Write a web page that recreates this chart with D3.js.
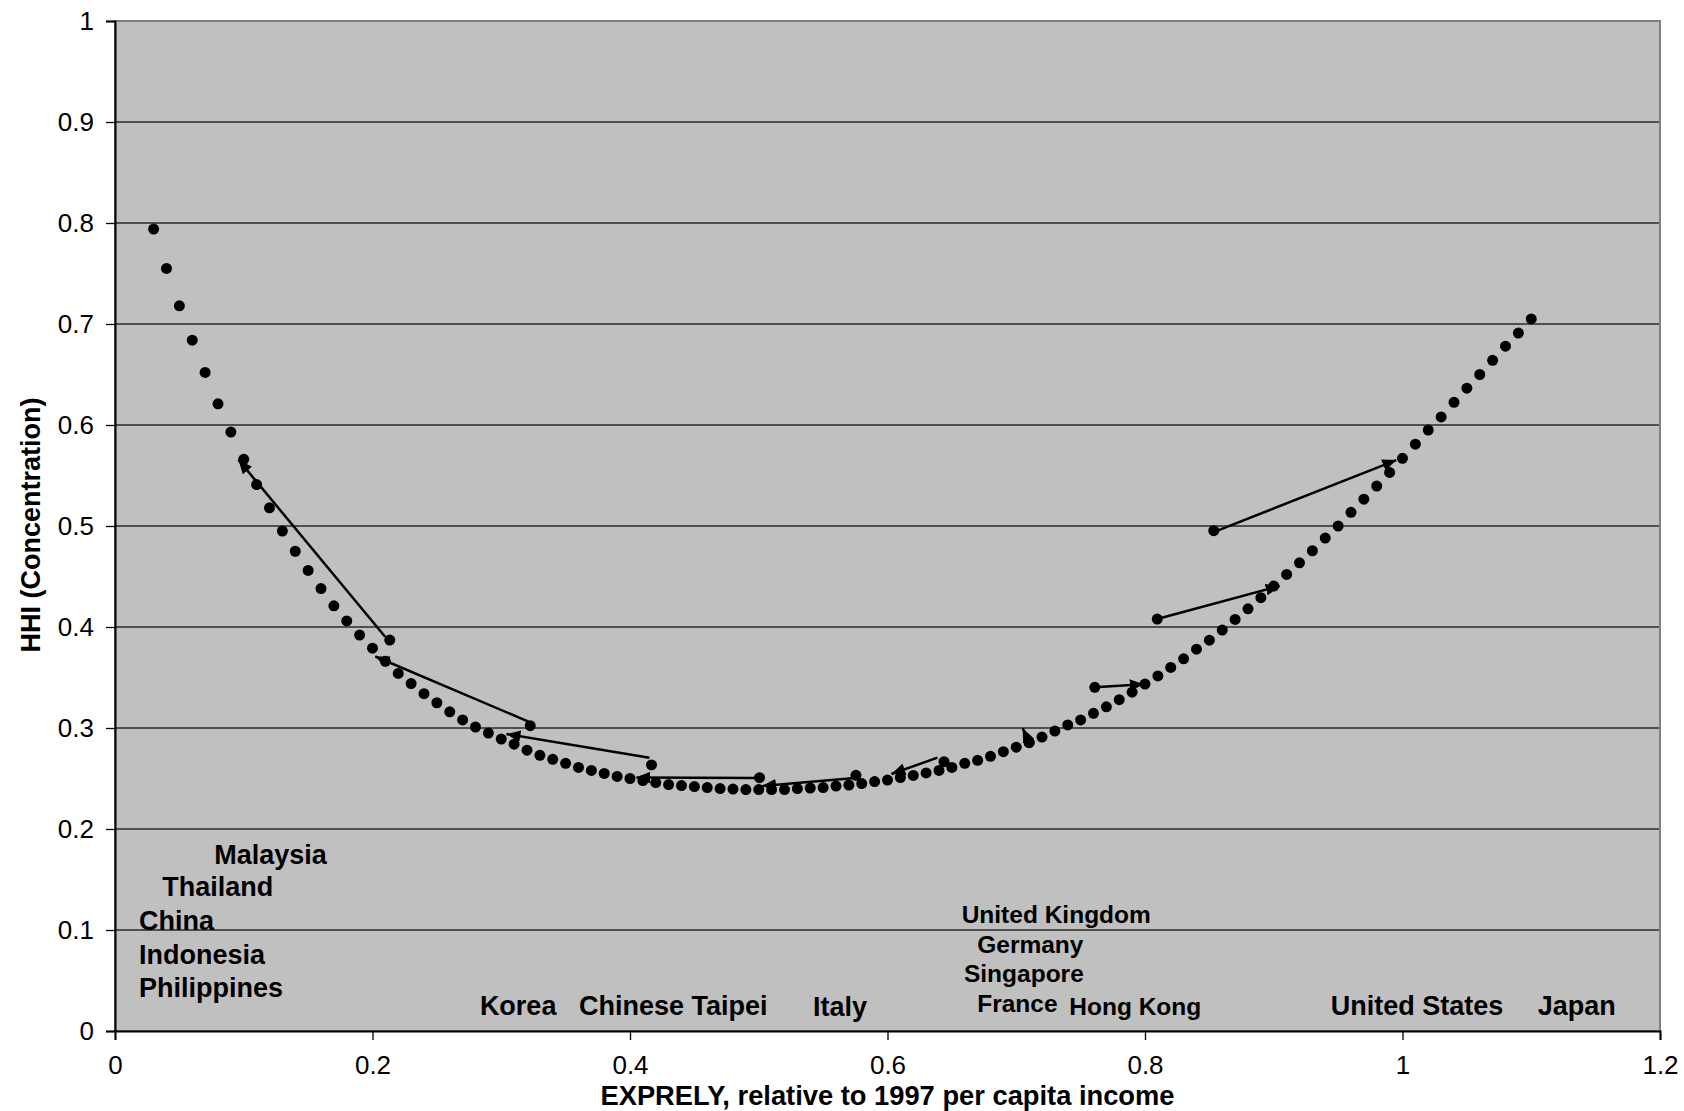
<!DOCTYPE html>
<html>
<head>
<meta charset="utf-8">
<script src="https://cdn.jsdelivr.net/npm/d3@7"></script>
<style>
  html, body { margin: 0; padding: 0; background: #ffffff; }
  svg { display: block; }
  text { font-family: "Liberation Sans", Arial, Helvetica, sans-serif; }
</style>
</head>
<body>
<svg id="chart" width="1684" height="1111"></svg>
<script>
// ---------------- data ----------------
const curveX = [0.03,0.04,0.05,0.06,0.07,0.08,0.09,0.10,0.11,0.12,0.13,0.14,0.15,0.16,0.17,0.18,0.19,0.20,
  0.21,0.22,0.23,0.24,0.25,0.26,0.27,0.28,0.29,0.30,0.31,0.32,0.33,0.34,0.35,0.36,0.37,0.38,0.39,0.40,
  0.41,0.42,0.43,0.44,0.45,0.46,0.47,0.48,0.49,0.50,0.51,0.52,0.53,0.54,0.55,0.56,0.57,0.58,0.59,0.60,
  0.61,0.62,0.63,0.64,0.65,0.66,0.67,0.68,0.69,0.70,0.71,0.72,0.73,0.74,0.75,0.76,0.77,0.78,0.79,0.80,
  0.81,0.82,0.83,0.84,0.85,0.86,0.87,0.88,0.89,0.90,0.91,0.92,0.93,0.94,0.95,0.96,0.97,0.98,0.99,1.00,
  1.01,1.02,1.03,1.04,1.05,1.06,1.07,1.08,1.09,1.10];
const curveY = [0.794,0.755,0.718,0.684,0.652,0.621,0.593,0.566,0.541,0.518,0.495,0.475,0.456,0.438,0.421,0.406,0.392,0.379,
  0.366,0.354,0.344,0.334,0.325,0.316,0.308,0.301,0.295,0.289,0.284,0.278,0.273,0.269,0.265,0.261,0.258,0.255,0.252,0.250,
  0.248,0.246,0.244,0.243,0.242,0.241,0.240,0.2395,0.239,0.239,0.239,0.239,0.240,0.2405,0.241,0.2425,0.2435,0.245,0.247,0.2485,
  0.251,0.253,0.2555,0.258,0.261,0.265,0.268,0.272,0.2765,0.281,0.2855,0.291,0.297,0.303,0.308,0.3145,0.321,0.328,0.3355,0.3435,
  0.3515,0.360,0.3685,0.378,0.387,0.397,0.4075,0.418,0.429,0.4405,0.452,0.4635,0.4755,0.488,0.500,0.5135,0.5265,0.5395,0.553,0.567,
  0.581,0.595,0.608,0.6225,0.6365,0.650,0.664,0.678,0.691,0.705];

// country observations (start of each trajectory)
const pointX = [0.2134,0.3225,0.4167,0.5006,0.5755,0.6439,0.7100,0.7610,0.8095,0.8534];
const pointY = [0.3871,0.3023,0.2634,0.2508,0.2532,0.2667,0.2858,0.3403,0.4079,0.4954];

// trajectory arrows
const arrowFromX = [0.2098,0.3212,0.4151,0.4988,0.5724,0.6388,0.7100,0.7610,0.8095,0.8534];
const arrowFromY = [0.3904,0.3063,0.2706,0.2505,0.2502,0.2706,0.2858,0.3403,0.4079,0.4940];
const arrowToX   = [0.0959,0.2022,0.3040,0.4050,0.5025,0.6030,0.7050,0.7990,0.9046,0.9952];
const arrowToY   = [0.5655,0.3708,0.2940,0.2510,0.2425,0.2545,0.2997,0.3432,0.4406,0.5653];

// country labels (anchored in data space)
const labelText = ["Malaysia","Thailand","China","Indonesia","Philippines","Korea","Chinese Taipei","Italy",
  "United Kingdom","Germany","Singapore","France","Hong Kong","United States","Japan"];
const labelX = [0.0771,0.0367,0.0186,0.0186,0.0186,0.2834,0.3604,0.5421,0.6576,0.6697,0.6594,0.6697,0.7412,0.9442,1.1051];
const labelY = [0.1650,0.1337,0.1000,0.0666,0.0333,0.0158,0.0158,0.0149,0.1072,0.0775,0.0488,0.0191,0.0158,0.0158,0.0158];
const labelSmall = [false,false,false,false,false,false,false,false,true,true,true,true,true,false,false];

const xTicks = [0,0.2,0.4,0.6,0.8,1,1.2];
const yTicks = [0,0.1,0.2,0.3,0.4,0.5,0.6,0.7,0.8,0.9,1];
const xTitle = "EXPRELY, relative to 1997 per capita income";
const yTitle = "HHI (Concentration)";

// ---------------- layout ----------------
const L = 115, R = 1660, T = 21, B = 1031;
const svg = d3.select("#chart");
const x = d3.scaleLinear().domain([0,1.2]).range([L,R]);
const y = d3.scaleLinear().domain([0,1]).range([B,T]);

// plot area
svg.append("rect").attr("x",L).attr("y",T).attr("width",R-L).attr("height",B-T)
  .attr("fill","#c0c0c0");

// grid lines
svg.append("g").selectAll("line").data(yTicks.filter(d => d > 0 && d < 1)).join("line")
  .attr("x1",L).attr("x2",R).attr("y1",d=>y(d)).attr("y2",d=>y(d))
  .attr("stroke","#2a2a2a").attr("stroke-width",1.3);

// border (top/right gray)
svg.append("rect").attr("x",L).attr("y",T).attr("width",R-L).attr("height",B-T)
  .attr("fill","none").attr("stroke","#808080").attr("stroke-width",2);

// axes
const fmt = d => String(d);
const yAxis = svg.append("g").attr("transform",`translate(${L},0)`)
  .call(d3.axisLeft(y).tickValues(yTicks).tickFormat(fmt).tickSizeOuter(0).tickSize(9).tickPadding(12));
const xAxis = svg.append("g").attr("transform",`translate(0,${B})`)
  .call(d3.axisBottom(x).tickValues(xTicks).tickFormat(fmt).tickSizeOuter(0).tickSize(9).tickPadding(16));
[yAxis,xAxis].forEach(g => {
  g.select(".domain").attr("stroke","#000").attr("stroke-width",2);
  g.selectAll(".tick line").attr("stroke","#000").attr("stroke-width",1.3);
  g.selectAll(".tick text").attr("fill","#000").style("font-size","26px")
    .style("font-family",'"Liberation Sans", Arial, sans-serif');
});

// axis titles
svg.append("text").attr("x",(L+R)/2).attr("y",1105).attr("text-anchor","middle")
  .style("font-size","27.3px").style("font-weight","bold").text(xTitle);
svg.append("text").attr("transform",`translate(40,${(T+B)/2 - 1}) rotate(-90)`).attr("text-anchor","middle")
  .style("font-size","27px").style("font-weight","bold").text(yTitle);

// arrow marker
const defs = svg.append("defs");
defs.append("marker").attr("id","head").attr("markerUnits","userSpaceOnUse")
  .attr("viewBox","0 0 14 12").attr("refX",14).attr("refY",6)
  .attr("markerWidth",14).attr("markerHeight",12).attr("orient","auto")
  .append("path").attr("d","M0,0 L14,6 L0,12 Z").attr("fill","#000");

// fitted curve (dots)
svg.append("g").selectAll("circle").data(curveX.map((d,i)=>[d,curveY[i]])).join("circle")
  .attr("cx",d=>x(d[0])).attr("cy",d=>y(d[1])).attr("r",5.5).attr("fill","#000");

// arrows
svg.append("g").selectAll("line").data(arrowFromX.map((d,i)=>i)).join("line")
  .attr("x1",i=>x(arrowFromX[i])).attr("y1",i=>y(arrowFromY[i]))
  .attr("x2",i=>x(arrowToX[i])).attr("y2",i=>y(arrowToY[i]))
  .attr("stroke","#000").attr("stroke-width",2.5).attr("marker-end","url(#head)");

// country points
svg.append("g").selectAll("circle").data(pointX.map((d,i)=>[d,pointY[i]])).join("circle")
  .attr("cx",d=>x(d[0])).attr("cy",d=>y(d[1])).attr("r",5.5).attr("fill","#000");

// labels
svg.append("g").selectAll("text").data(labelText.map((d,i)=>i)).join("text")
  .attr("x",i=>x(labelX[i])).attr("y",i=>y(labelY[i]))
  .style("font-size",i=>labelSmall[i] ? "24.5px" : "27px").style("font-weight","bold")
  .attr("fill","#000").text(i=>labelText[i]);
</script>
</body>
</html>
